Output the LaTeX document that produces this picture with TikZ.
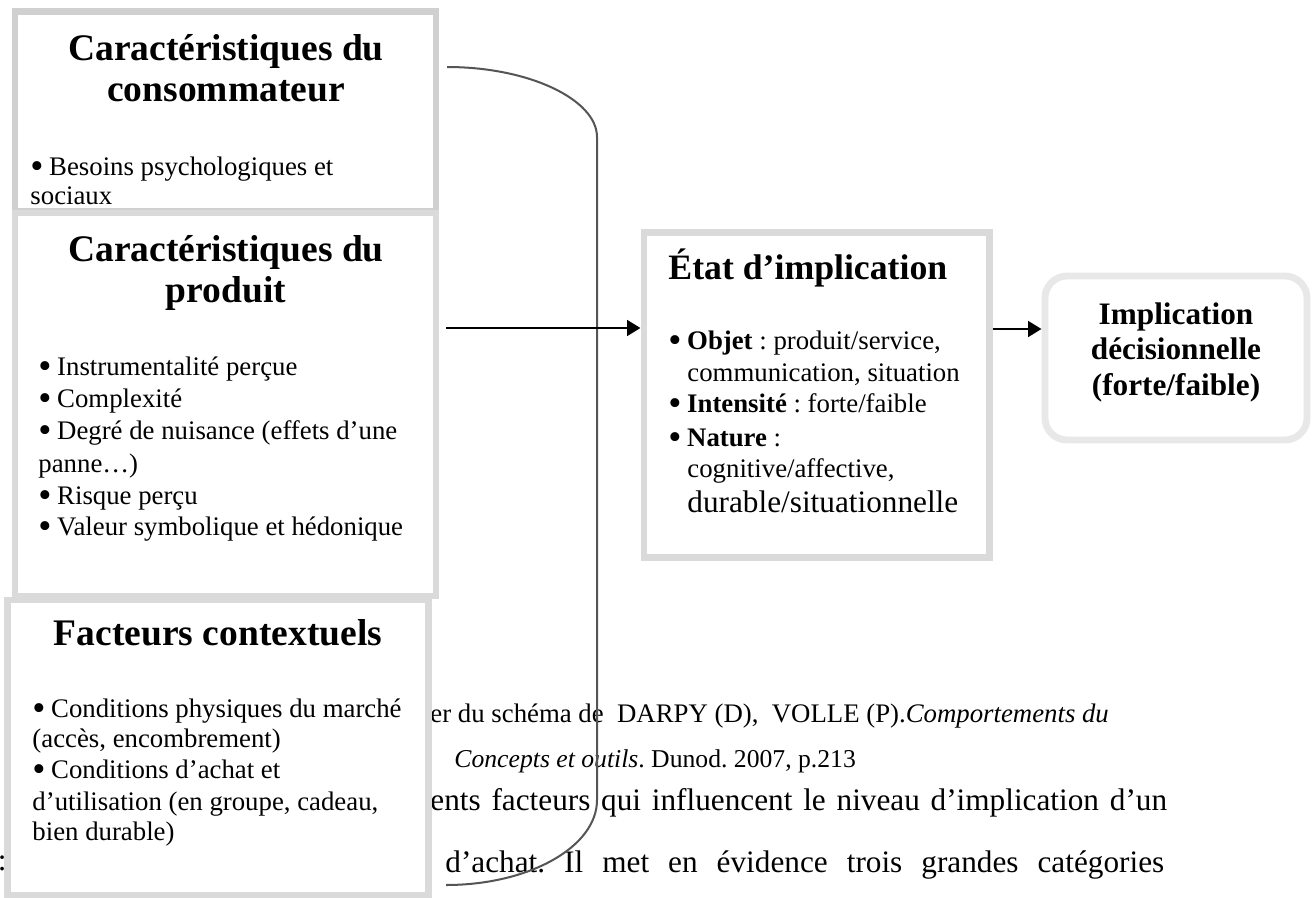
\documentclass[tikz,border=0pt]{standalone}
\usepackage{fontspec}
\setmainfont{Liberation Serif}
\usetikzlibrary{arrows.meta}
\definecolor{bxA}{RGB}{208,208,208}
\definecolor{bxB}{RGB}{218,218,218}
\definecolor{bxC}{RGB}{232,232,232}
\definecolor{curvegray}{RGB}{85,85,85}
\newcommand\mybul{\makebox[8.4pt][l]{\smash{\raisebox{-0.12em}{\scalebox{1.4}{•}}}}}
\frenchspacing
\begin{document}
\begin{tikzpicture}[x=0.448pt,y=-0.448pt,
  box/.style={draw=bxB, line width=3.1pt, fill=white, inner sep=0pt},
  txt/.style={inner sep=0pt, anchor=base west, font=\fontsize{12}{14}\selectfont},
  ttl/.style={inner sep=0pt, anchor=base, font=\fontsize{16.8}{18}\selectfont\bfseries},
  ttr/.style={inner sep=0pt, anchor=base, font=\fontsize{14}{16}\selectfont\bfseries},
  arr/.style={line width=1.2pt, -{Triangle[length=6pt,width=7pt]}},
  brace/.style={draw=curvegray, line width=0.9pt}]
\useasboundingbox (0,0) rectangle (1312,898);

% running text behind the diagram
\node[txt] (srcA) at (430,722) {er du schéma de\ \ DARPY (D),\ \ VOLLE (P).\textit{Comportements du}};
\node[txt,font=\fontsize{11.5}{14}\selectfont] (srcB) at (454,767) {\textit{Concepts et outils}. Dunod. 2007, p.213};
\node[txt,font=\fontsize{14}{16}\selectfont] (parC) at (430,810) {\makebox[330pt][s]{ents facteurs qui influencent le niveau d’implication d’un}};
\node[txt,font=\fontsize{14}{16}\selectfont] (parD) at (445,872) {\makebox[322pt][s]{d’achat. Il met en évidence trois grandes catégories}};
\node[inner sep=0pt, anchor=base east, font=\fontsize{14}{16}\selectfont] (parL) at (7,870) {u:};

% boxes
\node[box, draw=bxA, minimum width=188.6pt, minimum height=89.6pt] (cons) at (225.5,111.5) {};
\node[box, minimum width=188.6pt, minimum height=171.6pt] (prod) at (225.5,404.5) {};
\node[box, minimum width=188.2pt, minimum height=132.2pt] (ctx) at (218,747.5) {};
\node[box, minimum width=154.6pt, minimum height=146pt] (etat) at (816.5,395) {};
\node[box, draw=bxC, rounded corners=9.9pt, minimum width=117.4pt, minimum height=73.5pt] (impl) at (1176,358) {};

% box 1
\node[ttl] (cons-t1) at (226,60) {Caractéristiques du};
\node[ttl] (cons-t2) at (226,101) {consommateur};
\node[txt] (cons-b1) at (30,175) {\mybul Besoins psychologiques et};
\node[txt] (cons-b2) at (30,204) {sociaux};

% box 2
\node[ttl] (prod-t1) at (226,261) {Caractéristiques du};
\node[ttl] (prod-t2) at (226,302) {produit};
\node[txt] (prod-b1) at (38,375) {\mybul Instrumentalité perçue};
\node[txt] (prod-b2) at (38,407) {\mybul Complexité};
\node[txt] (prod-b3) at (38,439) {\mybul Degré de nuisance (effets d’une};
\node[txt] (prod-b3b) at (38,472) {panne…)};
\node[txt] (prod-b4) at (38,504) {\mybul Risque perçu};
\node[txt] (prod-b5) at (38,535) {\mybul Valeur symbolique et hédonique};

% box 3
\node[ttl] (ctx-t) at (218,645) {Facteurs contextuels};
\node[txt] (ctx-b1) at (32,717) {\mybul Conditions physiques du marché};
\node[txt] (ctx-b1b) at (32,747) {(accès, encombrement)};
\node[txt] (ctx-b2) at (32,778) {\mybul Conditions d’achat et};
\node[txt] (ctx-b2b) at (32,810) {d’utilisation (en groupe, cadeau,};
\node[txt] (ctx-b2c) at (32,840) {bien durable)};

% middle box
\node[ttl, anchor=base west, font=\fontsize{16}{18}\selectfont\bfseries] (etat-t) at (668,279) {État d’implication};
\node[txt] (etat-b1) at (668,349) {\mybul\textbf{Objet} : produit/service,};
\node[txt] (etat-b1b) at (687,381) {communication, situation};
\node[txt] (etat-b2) at (668,412) {\mybul\textbf{Intensité} : forte/faible};
\node[txt] (etat-b3) at (668,446) {\mybul\textbf{Nature} :};
\node[txt] (etat-b3b) at (687,477) {cognitive/affective,};
\node[txt, font=\fontsize{14}{16}\selectfont] (etat-b3c) at (687,512) {durable/situationnelle};

% right box
\node[ttr] (impl-1) at (1176,324) {Implication};
\node[ttr] (impl-2) at (1176,359) {décisionnelle};
\node[ttr] (impl-3) at (1176,395) {(forte/faible)};

% connectors
\coordinate (cs) at (447,67);
\coordinate (ce) at (446,885);
\draw[brace] (cs) .. controls (530,67) and (597,100) .. (597,137) -- (597,800) .. controls (597,847) and (529,885) .. (ce);

\coordinate (a1) at (446,328);
\draw[arr] (a1) -- (a1 -| etat.west);
\coordinate (a2) at (989,329);
\draw[arr] (a2 -| etat.east) -- (a2 -| impl.west);
\end{tikzpicture}
\end{document}
